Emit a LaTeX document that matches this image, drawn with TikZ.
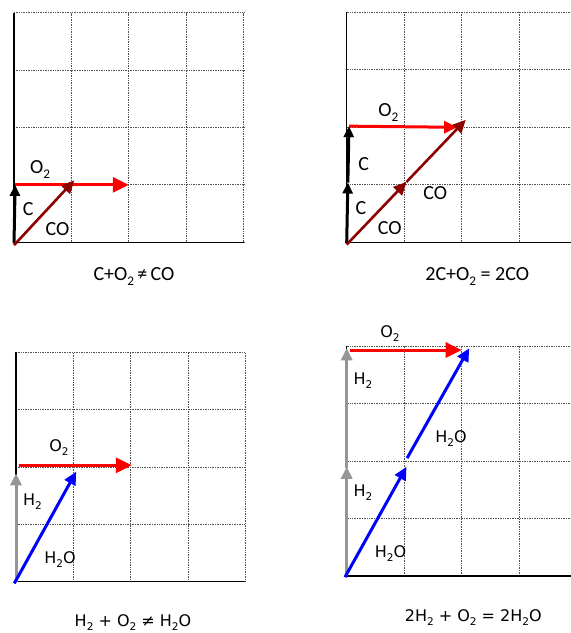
\documentclass[tikz,border=0pt]{standalone}
\usepackage{fontspec}
\usepackage{graphicx}
\setmainfont{Carlito}
\newfontfamily\dvs{DejaVu Sans}
\usetikzlibrary{arrows.meta}
\definecolor{cored}{RGB}{140,0,0}
\definecolor{hgray}{RGB}{150,150,150}
\definecolor{gridc}{RGB}{80,80,80}
\newcommand\sbs[1]{\raisebox{-0.25em}{\scalebox{0.66}{#1}}}
\begin{document}
\begin{tikzpicture}[x=1pt,y=-1pt,
  gridl/.style={draw=gridc, line width=0.9pt, dash pattern=on 1pt off 0.7pt},
  axisl/.style={draw=black, line width=1.4pt},
  vC/.style={black, line width=3pt, -{Triangle[length=11pt,width=10pt]}},
  vO/.style={red, line width=3pt, -{Triangle[length=16pt,width=15pt]}},
  vOs/.style={red, line width=3pt, -{Triangle[length=13pt,width=12pt]}},
  vCO/.style={cored, line width=2.6pt, -{Triangle[length=13pt,width=12pt]}},
  vH/.style={hgray, line width=3pt, -{Triangle[length=12pt,width=11pt]}},
  vW/.style={blue, line width=3pt, -{Triangle[length=13pt,width=12pt]}},
  lab/.style={font=\fontsize{20}{22}\selectfont, inner sep=0pt, anchor=base},
  labb/.style={font=\dvs\fontsize{16}{18}\selectfont, inner sep=0pt, anchor=base}]
\useasboundingbox (0,0) rectangle (571,633);
\clip (0,0) rectangle (571,633);

% ---------- Panel 1 ----------
\begin{scope}[shift={(14,242.3)}, x=57.4pt, y=57.4pt]
  \draw[gridl, step={(1,1)}] (0,0) grid (4,4);
  \draw[axisl] (0,4) -- (0,0) -- (4,0);
  \coordinate (a0) at (0,-0.02);
  \coordinate (a1) at (0.02,1.0);
  \coordinate (a2) at (2.0,1.0);
  \coordinate (a3) at (0,-0.05);
  \coordinate (a4) at (1.05,1.08);
  \draw[vO] (a1) -- (a2);
  \draw[vC] (a0) -- (a1);
  \draw[vCO] (a3) -- (a4);
\end{scope}
\node[lab] (t1o) at (40,173.2) {O\sbs{2}};
\node[lab] (t1c) at (28.3,215.5) {C};
\node[lab] (t1co) at (57.5,235) {CO};
\node[lab] (cap1) at (134,280) {C+O\sbs{2}\,≠\,CO};

% ---------- Panel 2 ----------
\begin{scope}[shift={(346.7,242.3)}, x=57.5pt, y=57.5pt]
  \draw[gridl, step={(1,1)}] (0,0) grid (4,4);
  \draw[axisl] (0,4) -- (0,0) -- (4,0);
  \coordinate (b0) at (0,-0.02);
  \coordinate (b1) at (0.02,1.04);
  \coordinate (b2) at (0.04,2.02);
  \coordinate (b3) at (1.92,2.0);
  \coordinate (b4) at (0,-0.04);
  \coordinate (b5) at (1.04,1.05);
  \coordinate (b6) at (2.07,2.13);
  \draw[vOs] (b2) -- (b3);
  \draw[vC] (b0) -- (b1);
  \draw[vC] (b1) -- (b2);
  \draw[vCO] (b4) -- (b5);
  \draw[vCO] (b5) -- (b6);
\end{scope}
\node[lab] (t2o) at (388.3,116.5) {O\sbs{2}};
\node[lab] (t2c1) at (363.7,170.5) {C};
\node[lab] (t2c2) at (361,214.8) {C};
\node[lab] (t2co1) at (435.3,199.8) {CO};
\node[lab] (t2co2) at (389.7,234.8) {CO};
\node[lab] (cap2) at (477.2,280) {2C+O\sbs{2} = 2CO};

% ---------- Panel 3 ----------
\begin{scope}[shift={(16,581.7)}, x=57.35pt, y=57.35pt]
  \draw[gridl, step={(1,1)}] (0,0) grid (4,4);
  \draw[axisl] (0,4) -- (0,0) -- (4,0);
  \coordinate (c0) at (0,0);
  \coordinate (c1) at (0,1.89);
  \coordinate (c2) at (0.05,2.03);
  \coordinate (c3) at (2.02,2.03);
  \coordinate (c4) at (-0.03,-0.03);
  \coordinate (c5) at (1.05,1.92);
  \draw[vH] (c0) -- (c1);
  \draw[vO] (c2) -- (c3);
  \draw[vW] (c4) -- (c5);
\end{scope}
\node[labb] (t3o) at (59,451.5) {O\sbs{2}};
\node[labb] (t3h) at (32.5,505.7) {H\sbs{2}};
\node[labb] (t3w) at (60,563.5) {H\sbs{2}O};
\node[labb] (cap3) at (133,626) {H\sbs{2} + O\sbs{2} ≠ H\sbs{2}O};

% ---------- Panel 4 ----------
\begin{scope}[shift={(346.7,576)}, x=57.5pt, y=57.5pt]
  \draw[gridl, step={(1,1)}] (0,0) grid (4,4);
  \draw[axisl] (0,4) -- (0,0) -- (4,0);
  \coordinate (d0) at (0,0);
  \coordinate (d1) at (0,1.9);
  \coordinate (d2) at (0,1.88);
  \coordinate (d3) at (0,3.96);
  \coordinate (d4) at (0.05,3.93);
  \coordinate (d5) at (2.0,3.93);
  \coordinate (d6) at (-0.03,-0.02);
  \coordinate (d7) at (1.04,1.9);
  \coordinate (d8) at (1.05,2.05);
  \coordinate (d9) at (2.13,3.96);
  \draw[vH] (d2) -- (d3);
  \draw[vH] (d0) -- (d1);
  \draw[vO] (d4) -- (d5);
  \draw[vW] (d6) -- (d7);
  \draw[vW] (d8) -- (d9);
\end{scope}
\node[labb] (t4o) at (390,337.7) {O\sbs{2}};
\node[labb] (t4h1) at (363,384.3) {H\sbs{2}};
\node[labb] (t4w1) at (451,442.7) {H\sbs{2}O};
\node[labb] (t4h2) at (363,496.8) {H\sbs{2}};
\node[labb] (t4w2) at (390.5,557) {H\sbs{2}O};
\node[labb] (cap4) at (473.3,621.8) {2H\sbs{2} + O\sbs{2} = 2H\sbs{2}O};
\end{tikzpicture}
\end{document}
